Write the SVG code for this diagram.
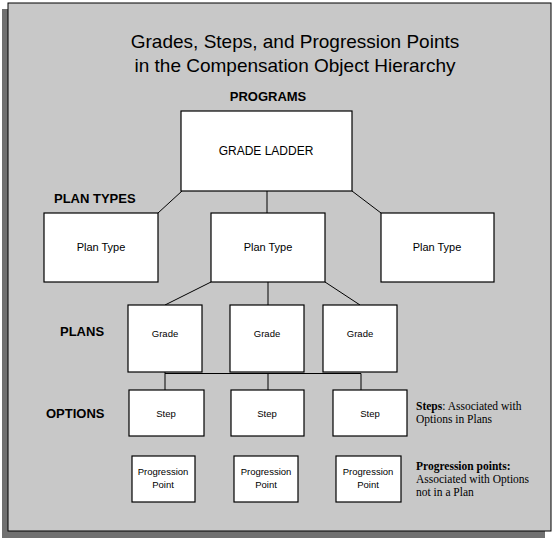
<svg xmlns="http://www.w3.org/2000/svg" width="555" height="543" viewBox="0 0 555 543">
<style>
.box{fill:#fff;stroke:#000;stroke-width:1.2}
.ln{stroke:#000;stroke-width:1;fill:none}
.t{font-family:"Liberation Sans",Arial,sans-serif;text-anchor:middle;fill:#000}
.lab{font-family:"Liberation Sans",Arial,sans-serif;font-weight:bold;font-size:13px;fill:#000}
.note{font-family:"Liberation Serif","Times New Roman",serif;font-size:11.5px;fill:#000}
</style>
<rect x="2" y="9" width="543" height="529" fill="#707070"/>
<rect x="8" y="3" width="543" height="528" fill="#c8c8c8" stroke="#000" stroke-width="1"/>
<text class="t" x="295" y="48" font-size="19">Grades, Steps, and Progression Points</text>
<text class="t" x="295" y="72" font-size="19">in the Compensation Object Hierarchy</text>
<text class="lab" x="268" y="101" text-anchor="middle">PROGRAMS</text>
<text class="lab" x="54" y="203">PLAN TYPES</text>
<text class="lab" x="60" y="336">PLANS</text>
<text class="lab" x="46" y="418">OPTIONS</text>
<g id="connectors">
<path class="ln" d="M182,191 L158,213 M267,191 L267,213 M352,191 L381,213"/>
<path class="ln" d="M211,282 L165,305 M268,282 L268,305 M325,282 L360,305"/>
<path class="ln" d="M165,372 L165,390 M165,373.5 L361,373.5 M268,373.5 L268,390 M361,373.5 L361,390"/>
</g>
<g id="grade-ladder"><rect class="box" x="181" y="111" width="171" height="80"/><text class="t" x="266" y="155" font-size="12">GRADE LADDER</text></g>
<g id="plantype1"><rect class="box" x="44" y="213" width="114" height="69"/><text class="t" x="101" y="251" font-size="11">Plan Type</text></g>
<g id="plantype2"><rect class="box" x="211" y="213" width="114" height="69"/><text class="t" x="268" y="251" font-size="11">Plan Type</text></g>
<g id="plantype3"><rect class="box" x="381" y="213" width="113" height="69"/><text class="t" x="437" y="251" font-size="11">Plan Type</text></g>
<g id="grade1"><rect class="box" x="128" y="305" width="74" height="67"/><text class="t" x="165" y="337" font-size="9.5">Grade</text></g>
<g id="grade2"><rect class="box" x="230" y="305" width="74" height="67"/><text class="t" x="267" y="337" font-size="9.5">Grade</text></g>
<g id="grade3"><rect class="box" x="323" y="305" width="74" height="67"/><text class="t" x="360" y="337" font-size="9.5">Grade</text></g>
<g id="step1"><rect class="box" x="129" y="390" width="75" height="46"/><text class="t" x="166" y="417" font-size="9.5">Step</text></g>
<g id="step2"><rect class="box" x="231" y="390" width="73" height="46"/><text class="t" x="267" y="417" font-size="9.5">Step</text></g>
<g id="step3"><rect class="box" x="333" y="390" width="74" height="46"/><text class="t" x="370" y="417" font-size="9.5">Step</text></g>
<g id="pp1"><rect class="box" x="132" y="456" width="63" height="46"/><text class="t" x="163" y="475" font-size="9.5">Progression</text><text class="t" x="163" y="488" font-size="9.5">Point</text></g>
<g id="pp2"><rect class="box" x="234" y="456" width="64" height="46"/><text class="t" x="266" y="475" font-size="9.5">Progression</text><text class="t" x="266" y="488" font-size="9.5">Point</text></g>
<g id="pp3"><rect class="box" x="336" y="456" width="65" height="46"/><text class="t" x="368" y="475" font-size="9.5">Progression</text><text class="t" x="368" y="488" font-size="9.5">Point</text></g>
<g id="note-steps"><text class="note" x="416" y="409.5"><tspan font-weight="bold">Steps</tspan>: Associated with</text><text class="note" x="416" y="422.5">Options in Plans</text></g>
<g id="note-pp"><text class="note" x="416" y="470" font-weight="bold">Progression points:</text><text class="note" x="416" y="483">Associated with Options</text><text class="note" x="416" y="496">not in a Plan</text></g>
</svg>
